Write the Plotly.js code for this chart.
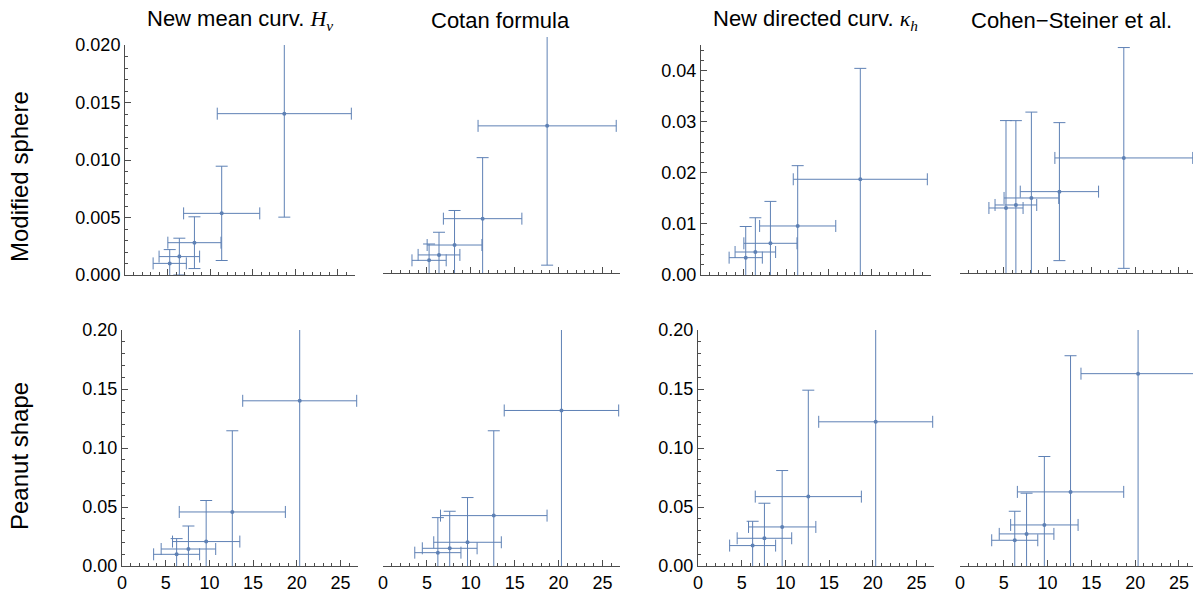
<!DOCTYPE html>
<html><head><meta charset="utf-8">
<script src="https://cdn.plot.ly/plotly-3.0.1.min.js"></script>
<style>html,body{margin:0;padding:0;background:#fff}#chart{width:1193px;height:597px}</style>
</head><body><div id="chart"></div>
<script>
// ---- data ----
const colTitles = ["New mean curv. <span style=\"font-family:'Liberation Serif'\"><i>H</i><sub><i>v</i></sub></span>",
                   "Cotan formula",
                   "New directed curv. <span style=\"font-family:'Liberation Serif'\"><i>κ</i><sub><i>h</i></sub></span>",
                   "Cohen−Steiner et al."];
const rowTitles = ["Modified sphere", "Peanut shape"];

const xTop = [5.25, 6.38, 8.15, 11.35, 18.7];
const xErrTop = [1.95, 2.38, 3.12, 4.47, 7.87];
const xBottom = [6.25, 7.6, 9.63, 12.62, 20.33];
const xErrBottom = [2.63, 3.12, 3.85, 6.07, 6.52];

const sphereHv = [0.00101, 0.0016, 0.00281, 0.00536, 0.01403];
const sphereHvErr = [0.0012, 0.0016, 0.00225, 0.0041, 0.009];
const sphereCotan = [0.0011, 0.00157, 0.00243, 0.00472, 0.01278];
const sphereCotanErr = [0.00142, 0.00197, 0.003, 0.0053, 0.0121];
const sphereKh = [0.00339, 0.0045, 0.0062, 0.00959, 0.01873];
const sphereKhErr = [0.0061, 0.0067, 0.0082, 0.0118, 0.0217];
const sphereCS = [0.01272, 0.01331, 0.01468, 0.01592, 0.02251];
const sphereCSErr = [0.0171, 0.0165, 0.0168, 0.0135, 0.0216];

const peanutHv = [0.0099, 0.0144, 0.0207, 0.0458, 0.140];
const peanutHvErr = [0.0133, 0.0195, 0.0348, 0.0688, 0.15];
const peanutCotan = [0.0113, 0.015, 0.0201, 0.0427, 0.1318];
const peanutCotanErr = [0.0297, 0.0314, 0.0379, 0.0719, 0.14];
const peanutKh = [0.0173, 0.0235, 0.0331, 0.0588, 0.1222];
const peanutKhErr = [0.0206, 0.0297, 0.0478, 0.0902, 0.13];
const peanutCS = [0.0218, 0.0272, 0.0348, 0.0628, 0.163];
const peanutCSErr = [0.0246, 0.0345, 0.058, 0.1154, 0.17];

// ---- layout helpers ----
const W = 1193, H = 597;
const C = '#5e81b5';
const AX = '#4d4d4d';
const FONT = 'Liberation Sans, Arial, sans-serif';
const dx = (a, b) => [a / W, b / W];
const dy = (top, bot) => [1 - bot / H, 1 - top / H];

const panels = [
  {x: xTop, xe: xErrTop, y: sphereHv, ye: sphereHvErr, xd: dx(125, 355), yd: dy(45, 275), xr: [0, 27], yr: [0, 0.020], yax: true, ydt: 0.005, ymin: 0.001, yfmt: '.3f', xlab: false},
  {x: xTop, xe: xErrTop, y: sphereCotan, ye: sphereCotanErr, xd: dx(383, 620), yd: dy(37, 273), xr: [0, 27], yr: [0, 0.0205], yax: false, xlab: false},
  {x: xTop, xe: xErrTop, y: sphereKh, ye: sphereKhErr, xd: dx(701, 931), yd: dy(45, 275), xr: [0, 27], yr: [0, 0.045], yax: true, ydt: 0.01, ymin: 0.002, yfmt: '.2f', xlab: false},
  {x: xTop, xe: xErrTop, y: sphereCS, ye: sphereCSErr, xd: dx(960, 1193), yd: dy(43, 273), xr: [0, 26.6], yr: [0, 0.045], yax: false, xlab: false},
  {x: xBottom, xe: xErrBottom, y: peanutHv, ye: peanutHvErr, xd: dx(122, 358), yd: dy(330, 566), xr: [0, 27], yr: [0, 0.20], yax: true, ydt: 0.05, ymin: 0.01, yfmt: '.2f', xlab: true},
  {x: xBottom, xe: xErrBottom, y: peanutCotan, ye: peanutCotanErr, xd: dx(383, 620), yd: dy(330, 566), xr: [0, 27], yr: [0, 0.20], yax: false, xlab: true},
  {x: xBottom, xe: xErrBottom, y: peanutKh, ye: peanutKhErr, xd: dx(698, 934), yd: dy(330, 566), xr: [0, 27], yr: [0, 0.20], yax: true, ydt: 0.05, ymin: 0.01, yfmt: '.2f', xlab: true},
  {x: xBottom, xe: xErrBottom, y: peanutCS, ye: peanutCSErr, xd: dx(960, 1193), yd: dy(330, 566), xr: [0, 26.6], yr: [0, 0.20], yax: false, xlab: true}
];

const traces = [];
const layout = {
  width: W, height: H, margin: {l: 0, r: 0, t: 0, b: 0},
  paper_bgcolor: '#fff', plot_bgcolor: 'rgba(0,0,0,0)',
  showlegend: false, font: {family: FONT, color: '#000'},
  annotations: []
};

panels.forEach((p, i) => {
  const n = i + 1;
  const xs = n === 1 ? '' : String(n);
  traces.push({
    type: 'scatter', mode: 'markers',
    x: p.x, y: p.y,
    xaxis: 'x' + xs, yaxis: 'y' + xs,
    marker: {color: C, size: 4},
    error_x: {type: 'data', array: p.xe, visible: true, color: C, thickness: 1, width: 6},
    error_y: {type: 'data', array: p.ye, visible: true, color: C, thickness: 1, width: 6},
    hoverinfo: 'skip'
  });
  layout['xaxis' + xs] = {
    domain: p.xd, anchor: 'y' + xs, range: p.xr,
    showgrid: false, zeroline: false, showline: true, linecolor: AX, linewidth: 1,
    ticks: 'inside', ticklen: 6, tickwidth: 1, tickcolor: AX, tick0: 0, dtick: 5,
    minor: {ticks: 'inside', ticklen: 3, tickwidth: 1, tickcolor: AX, tick0: 0, dtick: 1},
    showticklabels: p.xlab, tickfont: {family: FONT, size: 18, color: '#000'},
    fixedrange: true
  };
  if (p.yax) {
    layout['yaxis' + xs] = {
      domain: p.yd, anchor: 'x' + xs, range: p.yr,
      showgrid: false, zeroline: false, showline: true, linecolor: AX, linewidth: 1,
      ticks: 'inside', ticklen: 6, tickwidth: 1, tickcolor: AX, tick0: 0, dtick: p.ydt,
      minor: {ticks: 'inside', ticklen: 3, tickwidth: 1, tickcolor: AX, tick0: 0, dtick: p.ymin},
      tickformat: p.yfmt, tickfont: {family: FONT, size: 18, color: '#000'},
      fixedrange: true
    };
  } else {
    layout['yaxis' + xs] = {domain: p.yd, anchor: 'x' + xs, range: p.yr, visible: false, fixedrange: true};
  }
});

const titleX = [240, 500, 815, 1071];
colTitles.forEach((t, i) => {
  layout.annotations.push({text: t, xref: 'paper', yref: 'paper', x: titleX[i] / W, y: 1 - 20 / H,
    xanchor: 'center', yanchor: 'middle', showarrow: false, font: {family: FONT, size: 22, color: '#000'}});
});
const rowY = [177, 456];
rowTitles.forEach((t, i) => {
  layout.annotations.push({text: t, xref: 'paper', yref: 'paper', x: 19 / W, y: 1 - rowY[i] / H,
    xanchor: 'center', yanchor: 'middle', textangle: -90, showarrow: false, font: {family: FONT, size: 24, color: '#000'}});
});

Plotly.newPlot('chart', traces, layout, {staticPlot: true, displayModeBar: false});
</script>
</body></html>
